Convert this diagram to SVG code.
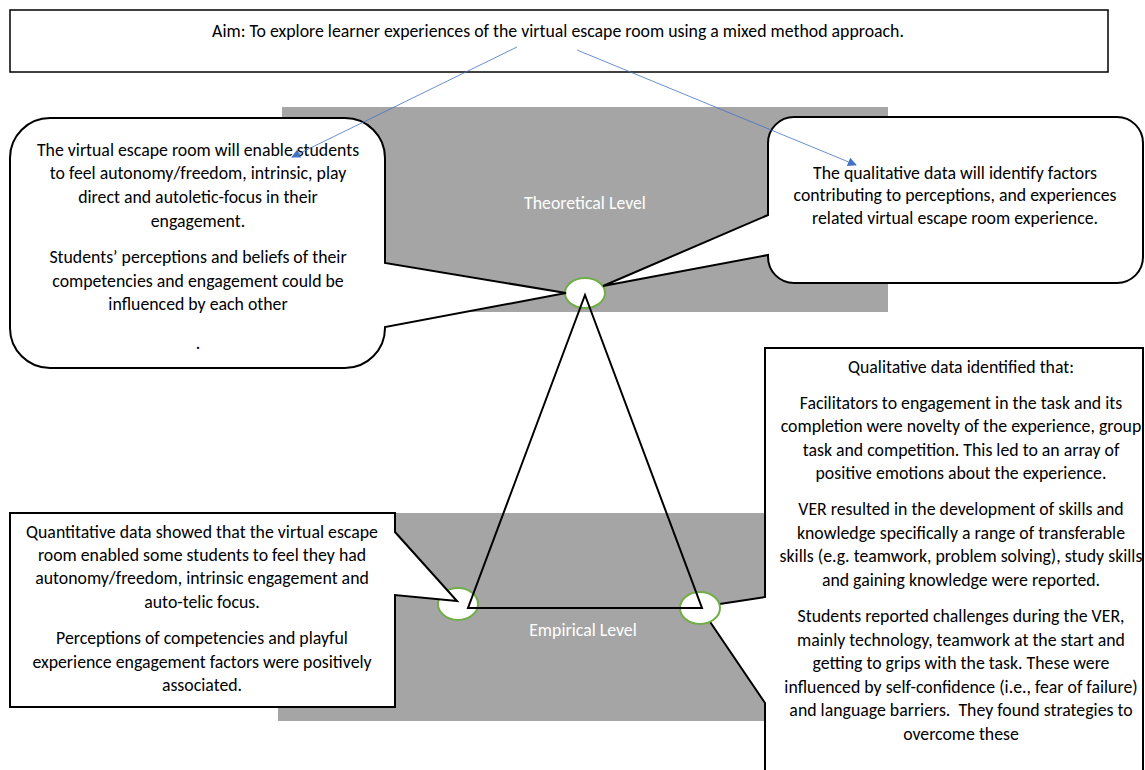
<svg xmlns="http://www.w3.org/2000/svg" width="1145" height="770" viewBox="0 0 1145 770">
<style>
text{font-family:Carlito,Lato,"Liberation Sans",sans-serif;font-size:17.8px;fill:#000;text-anchor:middle}
.lvl{fill:#fff;font-size:17.8px}
.gray{fill:#a5a5a5}
.call{fill:#fff;stroke:#000;stroke-width:2;stroke-linejoin:miter}
.circ{fill:#fff;stroke:#70ad47;stroke-width:2}
.blue{stroke:#4472c4;stroke-width:0.8;fill:none}
</style>
<defs>
<marker id="ah" viewBox="0 0 10 10" refX="9" refY="5" markerWidth="9" markerHeight="9" markerUnits="userSpaceOnUse" orient="auto"><path d="M0,0 L10,5 L0,10 Z" fill="#4472c4"/></marker>
</defs>
<g id="levels">
<rect class="gray" x="282" y="107" width="606" height="205"/>
<rect class="gray" x="278" y="513" width="520" height="208"/>
<text class="lvl" x="585" y="209">Theoretical Level</text>
<text class="lvl" x="583" y="636">Empirical Level</text>
</g>
<g id="aim">
<rect x="10" y="10" width="1098" height="62" fill="#fff" stroke="#000" stroke-width="1.5"/>
<text x="558" y="37">Aim: To explore learner experiences of the virtual escape room using a mixed method approach.</text>
</g>
<g id="empirical-qual">
<path class="call" d="M765,348 H1143 V790 H765 V703 L700,607 L765,597 Z"/>
<text x="961" y="373">Qualitative data identified that:</text>
<text x="961" y="409">Facilitators to engagement in the task and its</text>
<text x="961" y="432">completion were novelty of the experience, group</text>
<text x="961" y="456">task and competition. This led to an array of</text>
<text x="961" y="479">positive emotions about the experience.</text>
<text x="961" y="515">VER resulted in the development of skills and</text>
<text x="961" y="539">knowledge specifically a range of transferable</text>
<text x="961" y="562">skills (e.g. teamwork, problem solving), study skills</text>
<text x="961" y="586">and gaining knowledge were reported.</text>
<text x="961" y="622">Students reported challenges during the VER,</text>
<text x="961" y="646">mainly technology, teamwork at the start and</text>
<text x="961" y="669">getting to grips with the task. These were</text>
<text x="961" y="693">influenced by self-confidence (i.e., fear of failure)</text>
<text x="961" y="716" xml:space="preserve">and language barriers.  They found strategies to</text>
<text x="961" y="740">overcome these</text>
</g>
<g id="circles">
<ellipse class="circ" cx="585" cy="293" rx="20" ry="15"/>
<ellipse class="circ" cx="458" cy="604" rx="20" ry="16"/>
<ellipse class="circ" cx="700" cy="608" rx="20" ry="16"/>
</g>
<g id="triangle">
<path d="M585,295 L468,608 L702,608 Z" fill="none" stroke="#000" stroke-width="2"/>
</g>
<g id="empirical-quant">
<path class="call" d="M10,513 H395 V532 L457,601 L395,595 V707 H10 Z"/>
<text x="202" y="538">Quantitative data showed that the virtual escape</text>
<text x="202" y="561">room enabled some students to feel they had</text>
<text x="202" y="584">autonomy/freedom, intrinsic engagement and</text>
<text x="202" y="608">auto-telic focus.</text>
<text x="202" y="644">Perceptions of competencies and playful</text>
<text x="202" y="668">experience engagement factors were positively</text>
<text x="202" y="691">associated.</text>
</g>
<g id="theory-quant">
<path class="call" d="M50,118 H345 A40,40 0 0 1 385,158 V263 L566,293 L385,327 V328 A40,40 0 0 1 345,368 H50 A40,40 0 0 1 10,328 V158 A40,40 0 0 1 50,118 Z"/>
<text x="198" y="156">The virtual escape room will enable students</text>
<text x="198" y="179">to feel autonomy/freedom, intrinsic, play</text>
<text x="198" y="203">direct and autoletic-focus in their</text>
<text x="198" y="227">engagement.</text>
<text x="198" y="263">Students’ perceptions and beliefs of their</text>
<text x="198" y="287">competencies and engagement could be</text>
<text x="198" y="310">influenced by each other</text>
<text x="198" y="349">.</text>
</g>
<g id="theory-qual">
<path class="call" d="M794,117 H1117 A26,26 0 0 1 1143,143 V257 A26,26 0 0 1 1117,283 H794 A26,26 0 0 1 768,257 V255 L603,286 L768,215 V143 A26,26 0 0 1 794,117 Z"/>
<text x="955" y="179">The qualitative data will identify factors</text>
<text x="955" y="201">contributing to perceptions, and experiences</text>
<text x="955" y="224">related virtual escape room experience.</text>
</g>
<g id="connectors">
<line class="blue" x1="517" y1="47" x2="292" y2="157" marker-end="url(#ah)"/>
<line class="blue" x1="577" y1="50" x2="856" y2="165" marker-end="url(#ah)"/>
</g>
</svg>
